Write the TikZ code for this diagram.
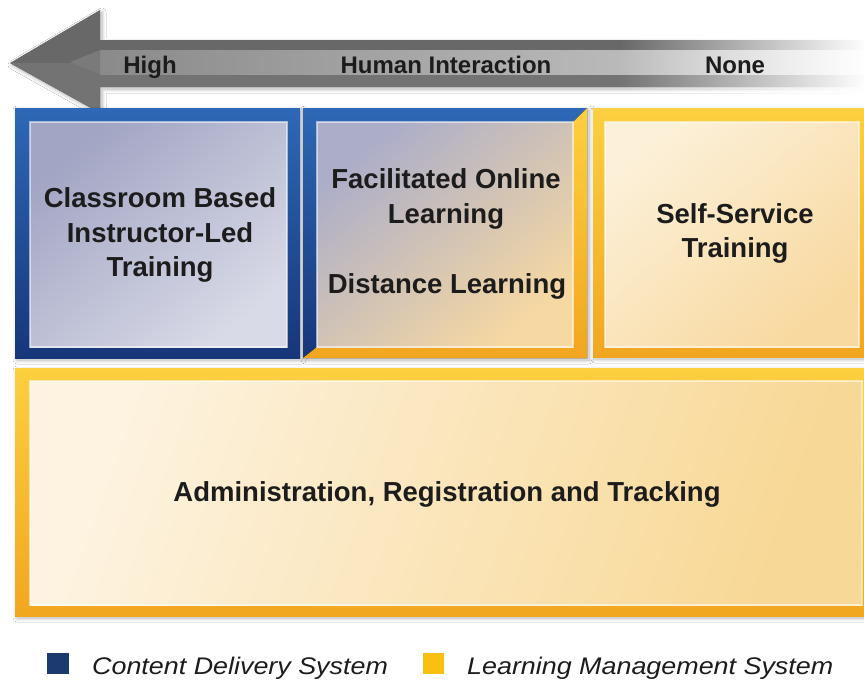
\documentclass[tikz,border=0pt]{standalone}
\usepackage{fontspec}
\setmainfont{Liberation Sans}
\newfontfamily\legendfont[FakeStretch=1.12]{Liberation Sans}
\usetikzlibrary{fadings,shadows.blur}

\definecolor{navy}{HTML}{17367A}
\definecolor{navymid}{HTML}{1E4A98}
\definecolor{navylight}{HTML}{2E68B6}
\definecolor{goldtop}{HTML}{FCD040}
\definecolor{goldbot}{HTML}{F2A620}
\definecolor{arrowdark}{HTML}{686868}
\definecolor{arrowmid}{HTML}{737373}
\definecolor{bandleft}{HTML}{8A8A8A}
\definecolor{bandright}{HTML}{D0D0D0}
\definecolor{inkdark}{HTML}{1C1C1C}
\definecolor{legendblue}{HTML}{1B3A6E}
\definecolor{legendgold}{HTML}{FBBF12}
% panel fills
\definecolor{slateA}{HTML}{A2A5C3}
\definecolor{slateB}{HTML}{D8DAE7}
\definecolor{mixA}{HTML}{ABADC9}
\definecolor{mixB}{HTML}{E2E1EA}
\definecolor{mixC}{HTML}{F6D8A2}
\definecolor{creamA}{HTML}{FCF0D8}
\definecolor{creamB}{HTML}{F8D9A0}
\definecolor{creamC}{HTML}{FDF3E0}
\definecolor{creamD}{HTML}{F8D896}

\tikzfading[name=fadetoright, left color=transparent!100, right color=transparent!0]

\tikzset{
  softshadow/.style={blur shadow={shadow blur steps=8, shadow xshift=2pt,
      shadow yshift=-2pt, shadow opacity=30, shadow blur radius=4pt}},
  blueframe/.style={top color=navylight, middle color=navymid, bottom color=navy},
  goldframe/.style={top color=goldtop, bottom color=goldbot},
  panelline/.style={draw=white, draw opacity=0.55, line width=1.2pt},
  boxtext/.style={anchor=base, inner sep=0pt, text=inkdark,
      font=\fontsize{27.5}{33}\selectfont\bfseries},
  scaletext/.style={anchor=base, inner sep=0pt, text=inkdark,
      font=\fontsize{24}{28}\selectfont\bfseries},
  legendtext/.style={anchor=base west, inner sep=0pt, text=inkdark,
      font=\legendfont\itshape\fontsize{24}{28}\selectfont},
}

\begin{document}
\begin{tikzpicture}[x=1pt,y=-1pt]
\useasboundingbox (0,0) rectangle (864,681);
\fill[white] (0,0) rectangle (864,681);

% --- the "Human Interaction" arrow, pointing left ---
\fill[arrowdark, softshadow] (10,63) -- (100,10) -- (100,40) -- (864,40)
  -- (864,87) -- (100,87) -- (100,113) -- cycle;
\fill[arrowmid] (10,63) -- (100,63) -- (100,113) -- cycle;
\fill[arrowmid] (100,74) rectangle (864,87);
\fill[left color=bandleft, right color=bandright] (100,50) rectangle (864,74);
\fill[arrowmid!70!bandleft] (100,50) -- (70,62) -- (100,74) -- cycle;
\fill[white, path fading=fadetoright] (620,30) rectangle (866,100);

\node[scaletext] (high) at (150,73) {High};
\node[scaletext] (hi)   at (446,73) {Human Interaction};
\node[scaletext] (none) at (735,73) {None};

% --- classroom box (content delivery) ---
\fill[blueframe, softshadow] (15,108) rectangle (300,358);
\fill[top color=slateA, bottom color=slateB, shading angle=40]
  (30,122) rectangle (287,347);
\draw[panelline] (30,122) rectangle (287,347);

% --- facilitated / distance box (both systems) ---
\fill[softshadow, white] (303,108) rectangle (587,358);
\fill[blueframe] (303,108) -- (587,108) -- (573,122) -- (317,122)
  -- (317,347) -- (303,358) -- cycle;
\fill[goldframe] (587,108) -- (587,358) -- (303,358) -- (317,347)
  -- (573,347) -- (573,122) -- cycle;
\fill[top color=mixA, middle color=mixB, bottom color=mixC,
  shading angle=40] (317,122) rectangle (573,347);
\draw[panelline] (317,122) rectangle (573,347);

% --- self-service box (learning management) ---
\fill[goldframe, softshadow] (593,108) rectangle (866,357);
\fill[top color=creamA, bottom color=creamB, shading angle=40]
  (605,122) rectangle (859,347);
\draw[panelline] (605,122) rectangle (859,347);

% --- administration band (learning management) ---
\fill[goldframe, softshadow] (15,368) rectangle (866,616);
\fill[top color=creamC, bottom color=creamD, shading angle=70]
  (30,381) rectangle (862,605);
\draw[panelline] (30,381) rectangle (862,605);

% --- box labels ---
\node[boxtext] (cb1) at (160,207) {Classroom Based};
\node[boxtext] (cb2) at (160,242) {Instructor-Led};
\node[boxtext] (cb3) at (160,276) {Training};

\node[boxtext] (fo1) at (446,188) {Facilitated Online};
\node[boxtext] (fo2) at (446,223) {Learning};
\node[boxtext] (dl)  at (447,293) {Distance Learning};

\node[boxtext] (ss1) at (735,223) {Self-Service};
\node[boxtext] (ss2) at (735,257) {Training};

\node[boxtext] (adm) at (447,501) {Administration, Registration and Tracking};

% --- legend ---
\fill[legendblue] (47,653) rectangle (69,674);
\node[legendtext] (cds) at (92,674) {Content Delivery System};
\fill[legendgold] (423,653) rectangle (444,674);
\node[legendtext] (lms) at (467,674) {Learning Management System};
\end{tikzpicture}
\end{document}
